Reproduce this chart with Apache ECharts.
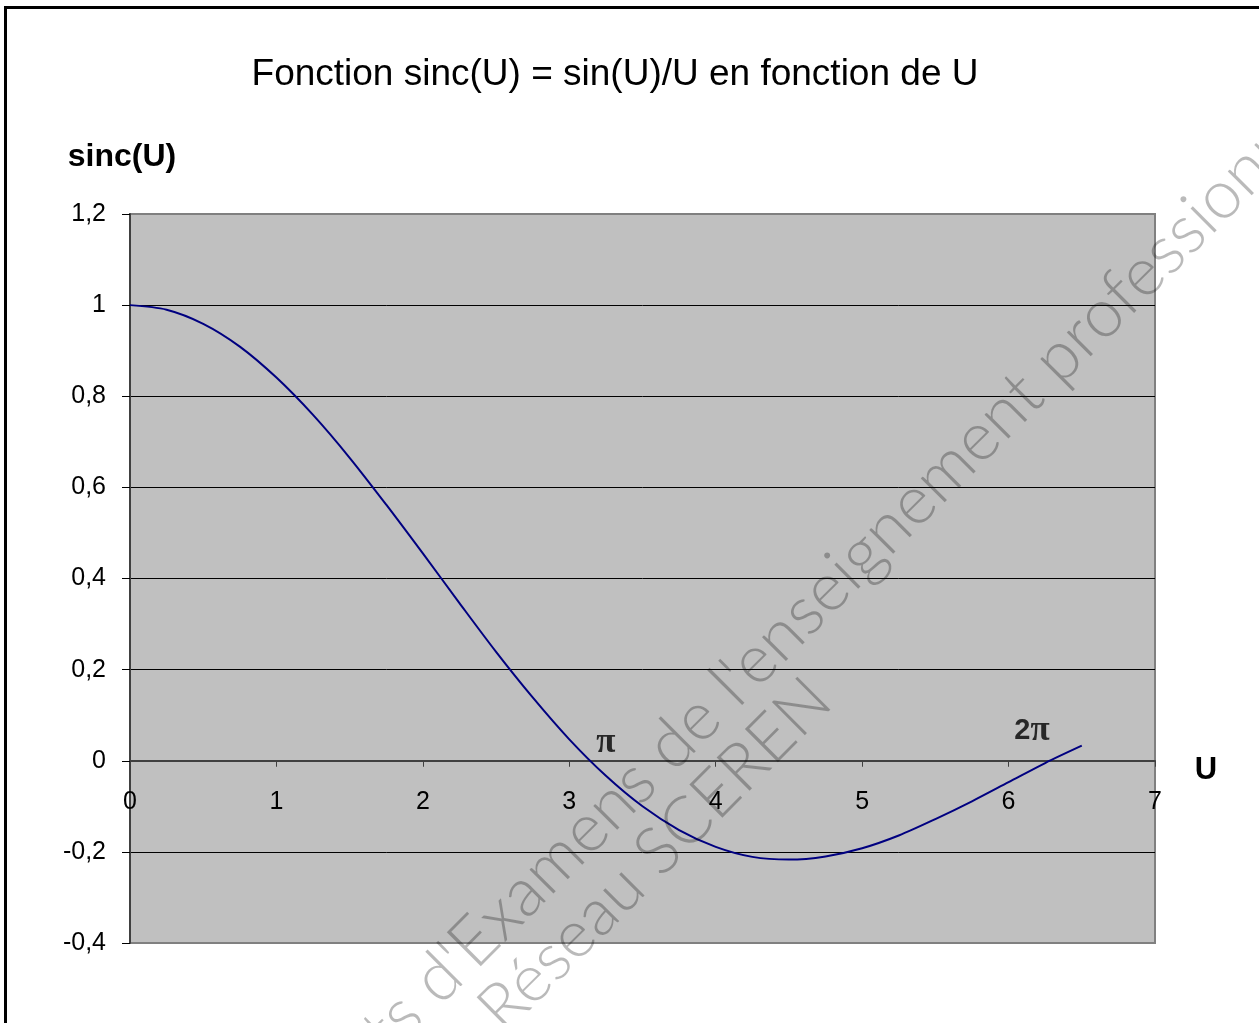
<!DOCTYPE html>
<html>
<head>
<meta charset="utf-8">
<script src="https://cdn.jsdelivr.net/npm/echarts@6/dist/echarts.min.js"></script>
<style>
html,body{margin:0;padding:0;background:#fff;}
#c{width:1259px;height:1023px;}
</style>
</head>
<body>
<div id="c"></div>
<script>
// Data (U values and sinc(U) values)
var uValues = [0, 0.25, 0.5, 0.75, 1, 1.25, 1.5, 1.75, 2, 2.25, 2.5, 2.75, 3, 3.25, 3.5, 3.75, 4, 4.25, 4.5, 4.75, 5, 5.25, 5.5, 5.75, 6, 6.25, 6.5];
var sincValues = [1, 0.990, 0.959, 0.909, 0.841, 0.759, 0.665, 0.562, 0.455, 0.346, 0.239, 0.139, 0.047, -0.033, -0.100, -0.152, -0.189, -0.211, -0.217, -0.210, -0.192, -0.164, -0.128, -0.089, -0.047, -0.005, 0.033];

// Annotations (π and 2π) near the zero crossings
var annotText = ['π', '2π'];
var annotU = [3.25, 6.16];
var annotY = [0.038, 0.065];

// Axis tick settings
var xTicks = {min: 0, max: 7, interval: 1};
var yTicks = {min: -0.4, max: 1.2, interval: 0.2};

var titleText = 'Fonction sinc(U) = sin(U)/U en fonction de U';
var yName = 'sinc(U)';
var xName = 'U';
var watermark1 = "Sujets d'Examens de l'enseignement professionnel";
var watermark2 = 'Réseau SCEREN';

var lineData = uValues.map(function (u, i) { return [u, sincValues[i]]; });
var annotData = annotU.map(function (u, i) { return {value: [u, annotY[i]], name: annotText[i]}; });

var chart = echarts.init(document.getElementById('c'), null, {renderer: 'canvas'});
var FONT = '"Liberation Sans", Arial, sans-serif';

var option = {
  animation: false,
  backgroundColor: '#ffffff',
  title: {
    text: titleText,
    left: 610,
    top: 51,
    textAlign: 'center',
    textStyle: {fontFamily: FONT, fontSize: 37, fontWeight: 'normal', color: '#000'}
  },
  grid: {
    left: 130, top: 214, width: 1025, height: 729,
    show: true, backgroundColor: '#C0C0C0', borderColor: '#808080', borderWidth: 2
  },
  xAxis: {
    type: 'value',
    min: xTicks.min, max: xTicks.max, interval: xTicks.interval,
    axisLine: {show: true, onZero: true, lineStyle: {color: '#404040', width: 2}},
    axisTick: {show: true, length: 6, lineStyle: {color: '#404040', width: 1}},
    axisLabel: {fontFamily: FONT, fontSize: 25, color: '#000', margin: -153},
    splitLine: {show: false}
  },
  yAxis: {
    type: 'value',
    min: yTicks.min, max: yTicks.max, interval: yTicks.interval,
    name: yName,
    nameLocation: 'end',
    nameGap: 57,
    nameTextStyle: {fontFamily: FONT, fontSize: 32, fontWeight: 'bold', color: '#000', align: 'center', verticalAlign: 'middle', padding: [0, 16, 0, 0]},
    axisLine: {show: true, lineStyle: {color: '#404040', width: 2}},
    axisTick: {show: true, length: 8, lineStyle: {color: '#000', width: 1}},
    axisLabel: {
      fontFamily: FONT, fontSize: 25, color: '#000', margin: 24,
      formatter: function (v) { return String(Math.round(v * 10) / 10).replace('.', ','); }
    },
    splitLine: {show: true, lineStyle: {color: ['#808080', '#000', '#404040', '#000', '#000', '#000', '#000', '#000', '#808080'], width: 1}}
  },
  series: [
    {
      type: 'line',
      data: lineData,
      showSymbol: false,
      smooth: 0.3,
      lineStyle: {color: '#000080', width: 2},
      z: 3
    },
    {
      type: 'scatter',
      data: annotData,
      symbolSize: 0,
      label: {
        show: true,
        position: 'inside',
        formatter: function (p) {
          return p.name === '2π' ? '{a|2}{b|π}' : '{b|π}';
        },
        rich: {
          a: {fontFamily: FONT, fontSize: 29, fontWeight: 'bold', color: '#000'},
          b: {fontFamily: '"Liberation Serif", "DejaVu Serif", serif', fontSize: 35, fontWeight: 'bold', color: '#000'}
        }
      },
      z: 4
    }
  ],
  graphic: [
    {
      type: 'text', z: 120, silent: true,
      x: 1206, y: 770,
      style: {text: xName, font: 'bold 31px ' + FONT, fill: '#000', textAlign: 'center', textVerticalAlign: 'middle'}
    },
    {
      type: 'rect', z: 200, silent: true,
      shape: {x: 5.5, y: 7.5, width: 1270, height: 1040},
      style: {fill: 'none', stroke: '#000', lineWidth: 3}
    },
    {
      type: 'text', z: 150, silent: true,
      x: 804, y: 612, rotation: Math.PI / 4,
      style: {text: watermark1, font: '300 68px Lato, "Noto Sans", sans-serif', fill: 'rgba(0,0,0,0.27)', textAlign: 'center', textVerticalAlign: 'middle'}
    },
    {
      type: 'text', z: 150, silent: true,
      x: 655, y: 855, rotation: Math.PI / 4,
      style: {text: watermark2, font: '300 66px Lato, "Noto Sans", sans-serif', fill: 'rgba(0,0,0,0.27)', textAlign: 'center', textVerticalAlign: 'middle'}
    }
  ]
};
chart.setOption(option);
</script>
</body>
</html>
